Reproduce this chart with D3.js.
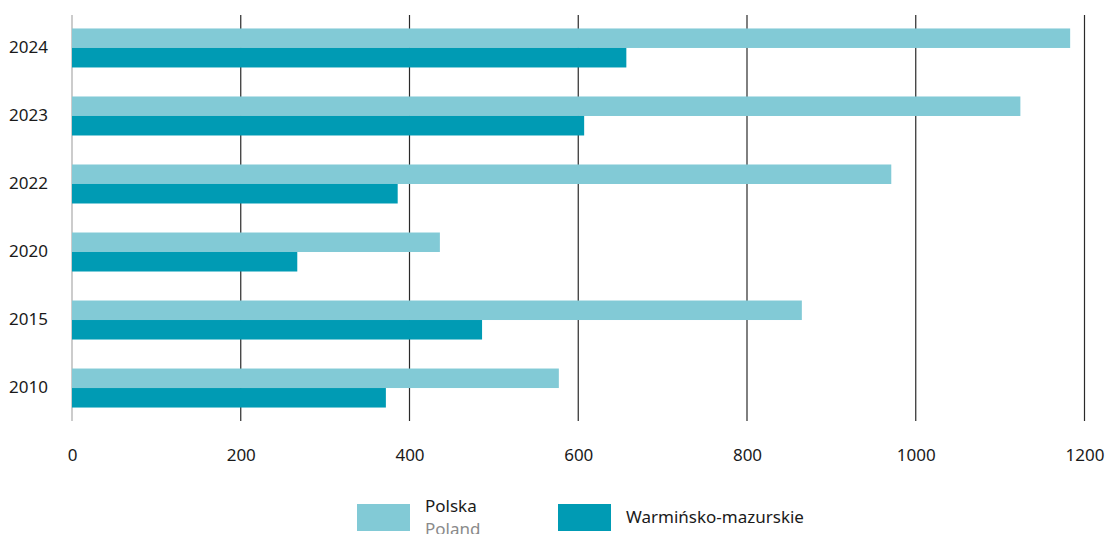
<!DOCTYPE html>
<html>
<head>
<meta charset="utf-8">
<script src="https://cdn.jsdelivr.net/npm/d3@7"></script>
<style>
  html, body { margin: 0; padding: 0; background: #fff; }
  svg { display: block; }
  text { font-family: "Noto Sans", "Open Sans", sans-serif; }
</style>
</head>
<body>
<svg id="chart" width="1107" height="534"></svg>
<script>
// Years, top to bottom
const years = ["2024", "2023", "2022", "2020", "2015", "2010"];
// Series values per year
const polska = [1183, 1124, 971, 436, 865, 577];
const warminsko = [657, 607, 386, 267, 486, 372];
const seriesKeys = ["polska", "warminsko"];
const seriesNames = ["Polska", "Warmińsko-mazurskie"];
const seriesColors = ["#82cad6", "#009bb4"];
const xTicks = [0, 200, 400, 600, 800, 1000, 1200];

const rows = years.map((y, i) => ({ year: y, polska: polska[i], warminsko: warminsko[i] }));

const svg = d3.select("#chart");

const x = d3.scaleLinear().domain([0, 1200]).range([72, 1084.5]);
const y = d3.scaleBand().domain(years).range([15, 421]).paddingInner(0.4265).paddingOuter(0.198);
const ySub = d3.scaleBand().domain(seriesKeys).range([0, y.bandwidth()]);
const color = d3.scaleOrdinal().domain(seriesKeys).range(seriesColors);

// Vertical grid lines
svg.append("g")
  .selectAll("line")
  .data(xTicks)
  .join("line")
  .attr("x1", d => x(d)).attr("x2", d => x(d))
  .attr("y1", 15).attr("y2", 421)
  .attr("stroke", d => d === 0 ? "#aaaaaa" : "#2a2a2a")
  .attr("stroke-width", 1.2);

// Bars
svg.append("g")
  .selectAll("g")
  .data(rows)
  .join("g")
  .attr("transform", d => `translate(0,${y(d.year)})`)
  .selectAll("rect")
  .data(d => seriesKeys.map(k => ({ key: k, value: d[k] })))
  .join("rect")
  .attr("x", x(0))
  .attr("y", d => ySub(d.key))
  .attr("width", d => x(d.value) - x(0))
  .attr("height", ySub.bandwidth())
  .attr("fill", d => color(d.key));

// X axis labels
const xAxis = d3.axisBottom(x).tickValues(xTicks).tickSize(0).tickPadding(0).tickFormat(d3.format("d"));
const gx = svg.append("g").attr("transform", "translate(0,449)").call(xAxis);
gx.select(".domain").remove();
gx.selectAll("text")
  .attr("dy", "0.71em")
  .attr("font-size", 17)
  .attr("font-family", "'Noto Sans', 'Open Sans', sans-serif")
  .attr("fill", "#1a1a1a");

// Y axis labels
const yAxis = d3.axisLeft(y).tickSize(0).tickPadding(0);
const gy = svg.append("g").attr("transform", "translate(48,0)").call(yAxis);
gy.select(".domain").remove();
gy.selectAll("text")
  .attr("font-size", 17)
  .attr("font-family", "'Noto Sans', 'Open Sans', sans-serif")
  .attr("fill", "#1a1a1a");

// Legend
const legend = svg.append("g");
const legendX = [357, 558];
seriesKeys.forEach((k, i) => {
  legend.append("rect")
    .attr("x", legendX[i]).attr("y", 504)
    .attr("width", 53).attr("height", 27)
    .attr("fill", color(k));
});
legend.append("text")
  .attr("x", 425).attr("y", 512)
  .attr("font-size", 17).attr("fill", "#1a1a1a")
  .text(seriesNames[0]);
legend.append("text")
  .attr("x", 425).attr("y", 535)
  .attr("font-size", 17).attr("fill", "#8a8a8a")
  .text("Poland");
legend.append("text")
  .attr("x", 626).attr("y", 523)
  .attr("font-size", 17).attr("fill", "#1a1a1a")
  .text(seriesNames[1]);
</script>
</body>
</html>
